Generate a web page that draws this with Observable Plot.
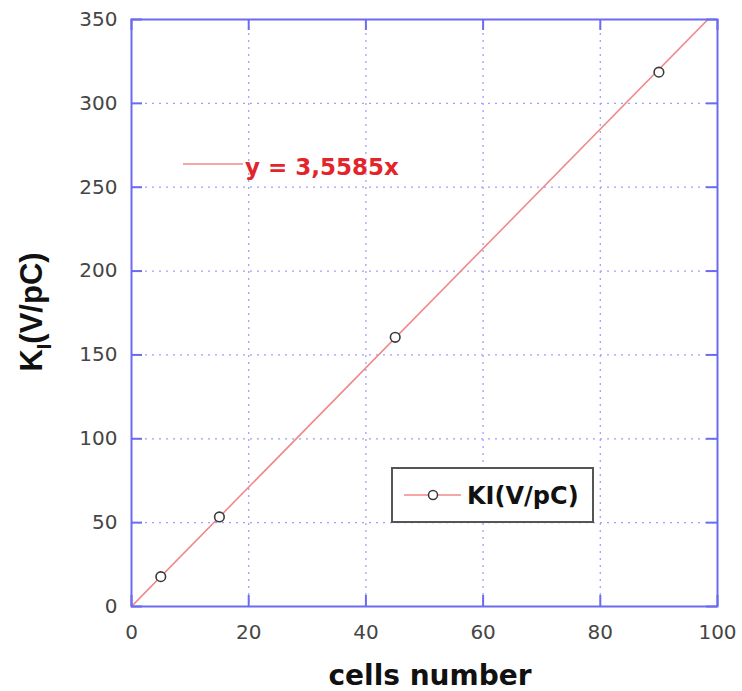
<!DOCTYPE html>
<html>
<head>
<meta charset="utf-8">
<script src="https://cdn.jsdelivr.net/npm/d3@7"></script>
<script src="https://cdn.jsdelivr.net/npm/@observablehq/plot@0.6"></script>
<style>
  html, body { margin: 0; padding: 0; background: white; }
  #wrap { position: relative; width: 742px; height: 691px; }
  #over { position: absolute; left: 0; top: 0; pointer-events: none; }
</style>
</head>
<body>
<div id="wrap"></div>
<script>
// ---- data ----
const cells = [5, 15, 45, 90];
const kiValues = [17.8, 53.4, 160.5, 318.6];
const fitSlope = 3.5585;
const fitX = [0, 100];
const xTicks = [0, 20, 40, 60, 80, 100];
const yTicks = [0, 50, 100, 150, 200, 250, 300, 350];
const seriesName = "KI(V/pC)";
const equationText = "y = 3,5585x";
const xTitle = "cells number";

const points = cells.map((c, i) => ({x: c, y: kiValues[i]}));
const fit = fitX.map(x => ({x, y: fitSlope * x}));

const W = 742, H = 691, ML = 131, MR = 25, MT = 19, MB = 85;
const plotW = W - ML - MR, plotH = H - MT - MB;
const tickLen = 11;

const frameBlue = "#6b6bf0";
const gridBlue = "#a0a0ff";
const tickText = "#454545";

const chart = Plot.plot({
  width: W,
  height: H,
  marginLeft: ML,
  marginRight: MR,
  marginTop: MT,
  marginBottom: MB,
  style: {fontFamily: "DejaVu Sans", fontSize: "20px", background: "white", overflow: "visible"},
  x: {domain: [0, 100]},
  y: {domain: [0, 350]},
  marks: [
    Plot.gridX(xTicks.slice(1, -1), {stroke: gridBlue, strokeOpacity: 1, strokeDasharray: "2,5", strokeWidth: 1.3}),
    Plot.gridY(yTicks.slice(1, -1), {stroke: gridBlue, strokeOpacity: 1, strokeDasharray: "2,5", strokeWidth: 1.3}),
    Plot.line(fit, {x: "x", y: "y", stroke: "#f08a8a", strokeWidth: 1.6, clip: true}),
    Plot.dot(points, {x: "x", y: "y", r: 4.8, stroke: "#3a3a3a", fill: "white", strokeWidth: 1.6}),
    // inward ticks on all four sides
    Plot.tickX(xTicks, {x: d => d, insetTop: plotH - tickLen, stroke: frameBlue, strokeWidth: 2}),
    Plot.tickX(xTicks, {x: d => d, insetBottom: plotH - tickLen, stroke: frameBlue, strokeWidth: 2}),
    Plot.tickY(yTicks, {y: d => d, insetRight: plotW - tickLen, stroke: frameBlue, strokeWidth: 2}),
    Plot.tickY(yTicks, {y: d => d, insetLeft: plotW - tickLen, stroke: frameBlue, strokeWidth: 2}),
    Plot.axisX(xTicks, {anchor: "bottom", tickSize: 0, tickPadding: 18, label: null, fill: tickText}),
    Plot.axisY(yTicks, {anchor: "left", tickSize: 0, tickPadding: 14, label: null, fill: tickText}),
    Plot.frame({stroke: frameBlue, strokeWidth: 2})
  ]
});

const wrap = document.getElementById("wrap");
wrap.appendChild(chart);

// overlay: titles, equation annotation, legend (real text)
const over = d3.select(wrap).append("svg")
  .attr("id", "over").attr("width", W).attr("height", H);

// x title
over.append("text")
  .attr("x", 430).attr("y", 685)
  .attr("text-anchor", "middle")
  .attr("font-family", "DejaVu Sans").attr("font-weight", "bold").attr("font-size", 28)
  .attr("fill", "#111")
  .text(xTitle);

// y title with subscript
const yt = over.append("text")
  .attr("transform", "translate(42,312) rotate(-90)")
  .attr("text-anchor", "middle")
  .attr("font-family", "Liberation Sans").attr("font-weight", "bold").attr("font-size", 31)
  .attr("fill", "#111");
yt.append("tspan").text("K");
yt.append("tspan").attr("font-size", 20).attr("dy", 9).text("I");
yt.append("tspan").attr("dy", -9).text("(V/pC)");

// equation annotation
over.append("line")
  .attr("x1", 183).attr("x2", 243).attr("y1", 164).attr("y2", 164)
  .attr("stroke", "#f08a8a").attr("stroke-width", 1.6);
over.append("text")
  .attr("x", 245).attr("y", 175)
  .attr("font-family", "DejaVu Sans").attr("font-weight", "bold").attr("font-size", 23)
  .attr("fill", "#e3242b")
  .text(equationText);

// legend
over.append("rect")
  .attr("x", 392).attr("y", 468).attr("width", 201).attr("height", 54)
  .attr("fill", "white").attr("stroke", "#555").attr("stroke-width", 2);
over.append("line")
  .attr("x1", 404).attr("x2", 461).attr("y1", 495).attr("y2", 495)
  .attr("stroke", "#f08a8a").attr("stroke-width", 1.6);
over.append("circle")
  .attr("cx", 433).attr("cy", 495).attr("r", 4.5)
  .attr("fill", "white").attr("stroke", "#3a3a3a").attr("stroke-width", 1.5);
over.append("text")
  .attr("x", 467).attr("y", 504)
  .attr("font-family", "DejaVu Sans").attr("font-weight", "bold").attr("font-size", 24)
  .attr("fill", "#111")
  .text(seriesName);
</script>
</body>
</html>
